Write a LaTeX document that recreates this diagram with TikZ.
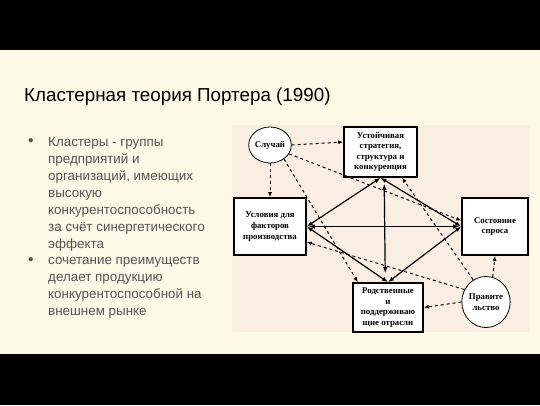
\documentclass[tikz,border=0pt]{standalone}
\usepackage{fontspec}
\setmainfont{Liberation Sans}
\newfontfamily\diagfont{Liberation Serif}
\usetikzlibrary{shapes.geometric,arrows.meta}
\definecolor{cream}{HTML}{FEF8E6}
\definecolor{panel}{HTML}{FAEEE2}
\definecolor{bodygrey}{HTML}{555555}

\begin{document}
\begin{tikzpicture}[x=1pt, y=-1pt,
    box/.style={draw, line width=1.6pt, fill=white, align=center, inner sep=1pt,
        font=\diagfont\bfseries\fontsize{8.8}{10.6}\selectfont},
    blob/.style={draw, ellipse, line width=0.8pt, fill=white, inner sep=0pt, align=center,
        font=\diagfont\bfseries\fontsize{8.8}{10.6}\selectfont},
    link/.style={{Latex[length=6pt,width=4.5pt]}-{Latex[length=6pt,width=4.5pt]}, line width=1.2pt},
    hint/.style={-{Latex[length=5pt,width=4pt]}, dashed, line width=1pt},
    bodytext/.style={anchor=north west, inner sep=0pt, align=left, text=bodygrey,
        font=\fontsize{13.4}{16.9}\selectfont}]
            \useasboundingbox (0, 0) rectangle (540, 405);
            \fill[black] (0, 0) rectangle (540, 405);
            \fill[cream] (0, 50) rectangle (540, 354);
            \fill[panel] (232, 125) rectangle (530, 332);
            % title and bullets
            \node[anchor=west, inner sep=0pt, font=\fontsize{18.8}{22}\selectfont] (title) at (24, 97) {Кластерная теория Портера (1990)};
            \node[text=bodygrey, font=\fontsize{10}{10}\selectfont] (dot1) at (31, 141) {●};
            \node[text=bodygrey, font=\fontsize{10}{10}\selectfont] (dot2) at (31, 260) {●};
            \node[bodytext] (list1) at (48, 137.5) {Кластеры - группы\\предприятий и\\организаций, имеющих\\высокую\\конкурентоспособность\\за счёт синергетического\\эффекта};
            \node[bodytext] (list2) at (48, 257) {сочетание преимуществ\\делает продукцию\\конкурентоспособной на\\внешнем рынке};
            % diamond of determinants
            \node[blob, minimum width=39, minimum height=36] (chance) at (270, 145) {Случай};
            \node[box, minimum width=73, minimum height=50] (strategy) at (380.5, 152) {Устойчивая\\стратегия,\\структура и\\конкуренция};
            \node[box, minimum width=72, minimum height=57] (factors) at (270, 226.5) {Условия для\\факторов\\производства};
            \node[box, minimum width=66, minimum height=57] (demand) at (495, 226.5) {Состояние\\спроса};
            \node[box, minimum width=70, minimum height=49] (related) at (388, 307.5) {Родственные\\и\\поддерживаю\\щие отрасли};
            \node[blob, minimum width=48, minimum height=51] (gov) at (486, 302) {Правите\\льство};
            \draw[link] (strategy.south) -- (factors.east);
            \draw[link] (strategy.south) -- (demand.west);
            \draw[link, shorten <=2pt, shorten >=2pt] (factors.east) -- (demand.west);
            \draw[link, shorten <=6pt, shorten >=9pt] (strategy.-82) -- (related.96);
            \draw[link] (factors.east) -- (related.north);
            \draw[link] (demand.west) -- (related.north);
            \draw[hint] (chance.east) -- (strategy.165);
            \draw[hint] (chance.south) -- (factors.north);
            \draw[hint] (chance.-25) -- (demand.170);
            \draw[hint] (chance.-45) -- (related.140);
            \draw[hint] (gov.west) -- (related.east);
            \draw[hint] (gov.75) -- (demand.south);
            \draw[hint] (gov.150) -- (factors.-23);
            \draw[hint] (gov.120) -- (strategy.-50);
        \end{tikzpicture}
\end{document}
